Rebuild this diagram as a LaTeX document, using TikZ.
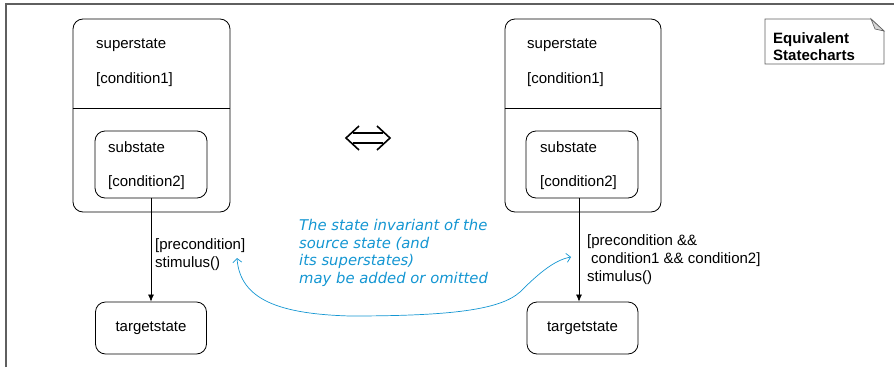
\documentclass[tikz,border=0pt]{standalone}
\usepackage{fontspec}
\setmainfont{Liberation Sans}
\newfontfamily\handfont{DejaVu Sans}
\usetikzlibrary{positioning,arrows.meta,calc}
\definecolor{hintblue}{RGB}{20,150,210}
\definecolor{framegray}{RGB}{95,95,95}
\definecolor{foldgray}{RGB}{215,215,215}
\tikzset{
  state/.style={draw=black, line width=0.8pt, rounded corners=10pt, inner sep=0pt},
  txt/.style={inner sep=0pt, anchor=west, font=\fontsize{15}{18}\selectfont},
  guard/.style={inner sep=0pt, anchor=north west, align=left, font=\fontsize{15}{18}\selectfont},
  trans/.style={draw=black, line width=0.7pt, -{Latex[length=7pt,width=6pt]}},
  hint/.style={draw=hintblue, line width=0.7pt,
    {Straight Barb[length=4pt,width=9pt]}-{Straight Barb[length=4pt,width=9pt]}},
  hinttxt/.style={inner sep=0pt, anchor=north west, align=left, text=hintblue,
    font=\handfont\itshape\fontsize{14.8}{17.7}\selectfont},
  notetxt/.style={inner sep=0pt, anchor=west, align=left,
    font=\fontsize{15}{17}\selectfont\bfseries}
}

\begin{document}
\begin{tikzpicture}[x=1pt, y=-1pt]
  \useasboundingbox (0,0) rectangle (894,367);
  % frame
  \draw[framegray, line width=1.3pt] (6,367) -- (6,4) -- (894,4);

  % left chart
  \node[state, minimum width=157pt, minimum height=193pt] (sup1) at (151.5,115.5) {};
  \draw[line width=0.8pt] (sup1.west |- 0,108) -- (sup1.east |- 0,108);
  \node[txt] (sup1name) at (96,45) {superstate};
  \node[txt] (sup1cond) at (96,80) {[condition1]};
  \node[state, minimum width=112pt, minimum height=67pt] (sub1) at (151,164.5) {};
  \node[txt] (sub1name) at (108,147) {substate};
  \node[txt] (sub1cond) at (108,183) {[condition2]};
  \node[state, minimum width=111pt, minimum height=52pt, font=\fontsize{15}{18}\selectfont] (tgt1) at (151,328) {targetstate};
  \draw[trans] (sub1.south) -- (tgt1.north);
  \node[guard] (guard1) at (155,238) {[precondition]\\stimulus()};

  % right chart
  \node[state, minimum width=156pt, minimum height=193pt] (sup2) at (583,115.5) {};
  \draw[line width=0.8pt] (sup2.west |- 0,108) -- (sup2.east |- 0,108);
  \node[txt] (sup2name) at (527,45) {superstate};
  \node[txt] (sup2cond) at (527,80) {[condition1]};
  \node[state, minimum width=112pt, minimum height=67pt] (sub2) at (582,164.5) {};
  \node[txt] (sub2name) at (540,147) {substate};
  \node[txt] (sub2cond) at (540,183) {[condition2]};
  \node[state, minimum width=111pt, minimum height=52pt, font=\fontsize{15}{18}\selectfont] (tgt2) at (582.5,328) {targetstate};
  \draw[trans] ([xshift=-3pt]sub2.south) -- ([xshift=-3.5pt]tgt2.north);
  \node[guard] (guard2) at (587,234) {[precondition \&\&\\\hspace{4pt}condition1 \&\& condition2]\\stimulus()};

  % equivalence sign
  \draw[line width=1.6pt] (353,133) -- (383,133) (353,143) -- (383,143);
  \draw[line width=1.6pt, line join=miter] (359,126) -- (346,138) -- (359,150)
                                           (377,126) -- (390,138) -- (377,150);

  % note
  \draw[framegray, fill=white, line width=0.8pt] (765,64) -- (765,19) -- (871,19) -- (884,31) -- (884,64) -- cycle;
  \filldraw[draw=framegray, fill=foldgray, line width=0.6pt] (871,19) -- (875,29) -- (884,31) -- cycle;
  \node[notetxt] (note) at (773,46.5) {Equivalent\\Statecharts};

  % remark on guards
  \node[hinttxt] (hinttext) at (299,219) {The state invariant of the\\source state (and\\its superstates)\\may be added or omitted};
  \coordinate (hintL) at (237,258);
  \coordinate (hintR) at (571,257);
  \draw[hint] (hintL) .. controls (240,300) and (280,314) .. (350,316)
    .. controls (450,316) and (500,310) .. (520,292)
    .. controls (540,272) and (555,260) .. (hintR);
\end{tikzpicture}
\end{document}
